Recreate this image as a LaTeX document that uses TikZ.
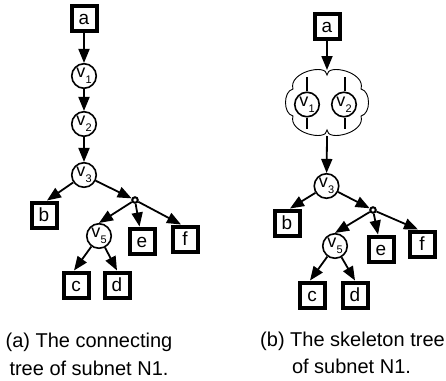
\documentclass[tikz,border=0pt]{standalone}
\usepackage{fontspec}
\setmainfont{Liberation Sans}
\usetikzlibrary{arrows.meta}

% vertex label: a "v" with a lowered index
\newcommand\vlabel[1]{v\kern0.3pt\raisebox{-6pt}{\fontsize{11}{11}\selectfont #1}}

\begin{document}
\begin{tikzpicture}[x=1pt,y=-1pt,
  leaf/.style={draw, line width=4pt, fill=white, minimum size=25pt, inner sep=0pt,
    text height=13.7pt, text depth=0pt, font=\fontsize{19}{19}\selectfont},
  vert/.style={circle, draw, line width=1.6pt, fill=white, minimum size=24.5pt, inner sep=0pt,
    font=\fontsize{18}{18}\selectfont},
  junc/.style={circle, draw, line width=2pt, fill=white, minimum size=5.5pt, inner sep=0pt},
  arr/.style={-{Triangle[length=14pt,width=11pt]}, line width=1.8pt},
  edge/.style={line width=1.6pt},
  cloudline/.style={line width=0.9pt},
  captext/.style={anchor=base, inner sep=0pt, font=\fontsize{20}{28}\selectfont}]
\useasboundingbox (0,0) rectangle (446,380);

% ---------- (a) connecting tree ----------
\node[leaf] (la)  at (84,18)   {a};
\node[vert] (lv1) at (84,76)   {\vlabel{1}};
\node[vert] (lv2) at (84,124)  {\vlabel{2}};
\node[vert] (lv3) at (84,175)  {\vlabel{3}};
\node[leaf] (lb)  at (44,215)  {b};
\node[junc] (lj)  at (135,200) {};
\node[vert] (lv5) at (99,236)  {\vlabel{5}};
\node[leaf] (le)  at (142,241) {e};
\node[leaf] (lf)  at (185,239) {f};
\node[leaf] (lc)  at (76,285)  {c};
\node[leaf] (ld)  at (117,285) {d};

\draw[arr] (la) -- (lv1);
\draw[arr] (lv1) -- (lv2);
\draw[arr] (lv2) -- (lv3);
\draw[arr] (lv3) -- ([xshift=3pt]lb.north);
\draw[arr] (lv3) -- (lj);
\draw[arr] (lj) -- (lv5.north);
\draw[arr] (lj) -- (le);
\draw[arr] (lj) -- ([xshift=-4pt]lf.north);
\draw[arr] (lv5) -- ([xshift=-2pt]lc.north);
\draw[arr] (lv5) -- (ld.north);

\node[captext] (capa1) at (89,347) {(a) The connecting};
\node[captext] (capa2) at (89,375) {tree of subnet N1.};

% ---------- (b) skeleton tree ----------
\node[leaf] (ra)  at (327,26)  {a};

% cloud around the merged vertices
\draw[cloudline, fill=white]
  (327,75) .. controls (327,63) and (288,72) .. (293,89)
           .. controls (283,91) and (283,114) .. (293,116)
           .. controls (288,133) and (327,142) .. (327,130)
           .. controls (327,142) and (366,133) .. (361,116)
           .. controls (371,114) and (371,91) .. (361,89)
           .. controls (366,72) and (327,63) .. (327,75) -- cycle;
\coordinate (cltop) at (327,70);
\coordinate (clbot) at (327,136);

\node[vert] (rv1) at (307,104.5) {\vlabel{1}};
\node[vert] (rv2) at (344,104.5) {\vlabel{2}};
\draw[edge] (rv1.north) -- +(0,-14.5);
\draw[edge] (rv1.south) -- +(0,11.5);
\draw[edge] ([xshift=1pt]rv2.north) -- +(0,-14.5);
\draw[edge] ([xshift=1pt]rv2.south) -- +(0,11.5);

\node[vert] (rv3) at (326.5,186) {\vlabel{3}};
\node[leaf] (rb)  at (287,223) {b};
\node[junc] (rj)  at (373,210) {};
\node[vert] (rv5) at (335,246) {\vlabel{5}};
\node[leaf] (re)  at (381,249) {e};
\node[leaf] (rf)  at (422,244) {f};
\node[leaf] (rc)  at (312,295) {c};
\node[leaf] (rd)  at (355,295) {d};

\draw[arr] (ra) -- (cltop);
\draw[arr] (clbot) -- (rv3);
\draw[arr] (rv3) -- ([xshift=3pt]rb.north);
\draw[arr] (rv3) -- (rj);
\draw[arr] (rj) -- (rv5.north);
\draw[arr] (rj) -- (re);
\draw[arr] (rj) -- ([xshift=-4pt]rf.north);
\draw[arr] (rv5) -- ([xshift=-2pt]rc.north);
\draw[arr] (rv5) -- (rd.north);

\node[captext] (capb1) at (352.5,346) {(b) The skeleton tree};
\node[captext] (capb2) at (351.5,373) {of subnet N1.};
\end{tikzpicture}
\end{document}
